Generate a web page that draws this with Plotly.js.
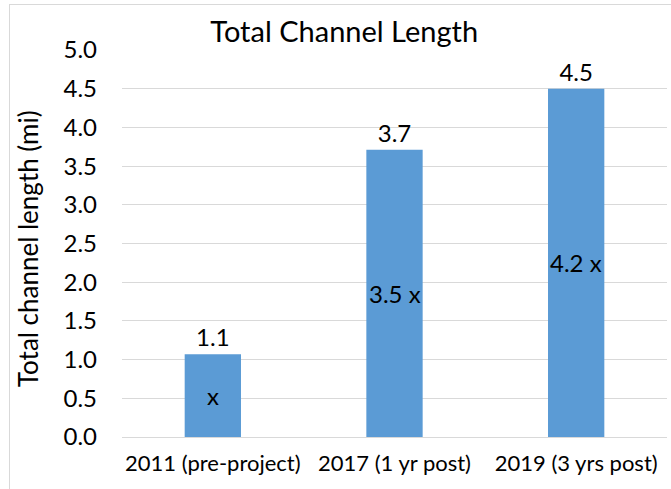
<!DOCTYPE html>
<html>
<head>
<meta charset="utf-8">
<script src="https://cdn.plot.ly/plotly-3.0.1.min.js"></script>
<style>
  html, body { margin: 0; padding: 0; background: #fff; }
  #wrap { position: relative; width: 671px; height: 489px; overflow: hidden; }
  #frame { position: absolute; left: 9px; top: 4px; width: 680px; height: 500px; border: 1px solid #d9d9d9; box-sizing: border-box; pointer-events: none; }
  #chart { width: 671px; height: 489px; }
</style>
</head>
<body>
<div id="wrap">
  <div id="chart"></div>
  <div id="frame"></div>
</div>
<script>
const categories = ["2011 (pre-project)", "2017 (1 yr post)", "2019 (3 yrs post)"];
const lengths = [1.07, 3.71, 4.50];
const valueLabels = ["1.1", "3.7", "4.5"];
const ratioLabels = ["x", "3.5 x", "4.2 x"];
const yTicks = [0, 0.5, 1, 1.5, 2, 2.5, 3, 3.5, 4, 4.5, 5];
const yTickText = ["0.0", "0.5", "1.0", "1.5", "2.0", "2.5", "3.0", "3.5", "4.0", "4.5", "5.0"];
const yTitle = "Total channel length (mi)";

const FONT = "Lato, 'Open Sans', sans-serif";

const trace = {
  type: "bar",
  x: categories,
  y: lengths,
  text: valueLabels,
  textposition: "outside",
  textfont: { family: FONT, size: 24, color: "#000" },
  cliponaxis: false,
  marker: { color: "#5B9BD5" },
  hoverinfo: "x+y"
};

const annotations = categories.map((c, i) => ({
  x: c, y: lengths[i] / 2, xref: "x", yref: "y",
  text: ratioLabels[i], showarrow: false,
  font: { family: FONT, size: 24, color: "#000" },
  xanchor: "center", yanchor: "middle"
}));

annotations.push({
  xref: "paper", yref: "paper",
  x: -0.1725, y: 0.488,
  text: yTitle, textangle: -90, showarrow: false,
  font: { family: FONT, size: 26, color: "#000" },
  xanchor: "center", yanchor: "middle"
});

const layout = {
  width: 671, height: 489,
  margin: { l: 122, r: 4, t: 50, b: 52 },
  paper_bgcolor: "#fff", plot_bgcolor: "#fff",
  bargap: 0.69,
  showlegend: false,
  title: {
    text: "Total Channel Length",
    font: { family: FONT, size: 29, color: "#000" },
    x: 0.513, xanchor: "center", y: 0.935, yanchor: "middle"
  },
  xaxis: {
    type: "category",
    tickfont: { family: FONT, size: 22, color: "#000" },
    showgrid: false, zeroline: false, showline: false,
    ticks: "", ticklabelstandoff: 11
  },
  yaxis: {
    range: [0, 5],
    tickvals: yTicks, ticktext: yTickText,
    tickfont: { family: FONT, size: 24, color: "#000" },
    showgrid: true, gridcolor: "#d9d9d9", gridwidth: 1,
    zeroline: true, zerolinecolor: "#d9d9d9", zerolinewidth: 1,
    showline: false, ticks: "", ticklabelstandoff: 24
  },
  annotations: annotations
};

Plotly.newPlot("chart", [trace], layout, { displayModeBar: false, staticPlot: true });
</script>
</body>
</html>
